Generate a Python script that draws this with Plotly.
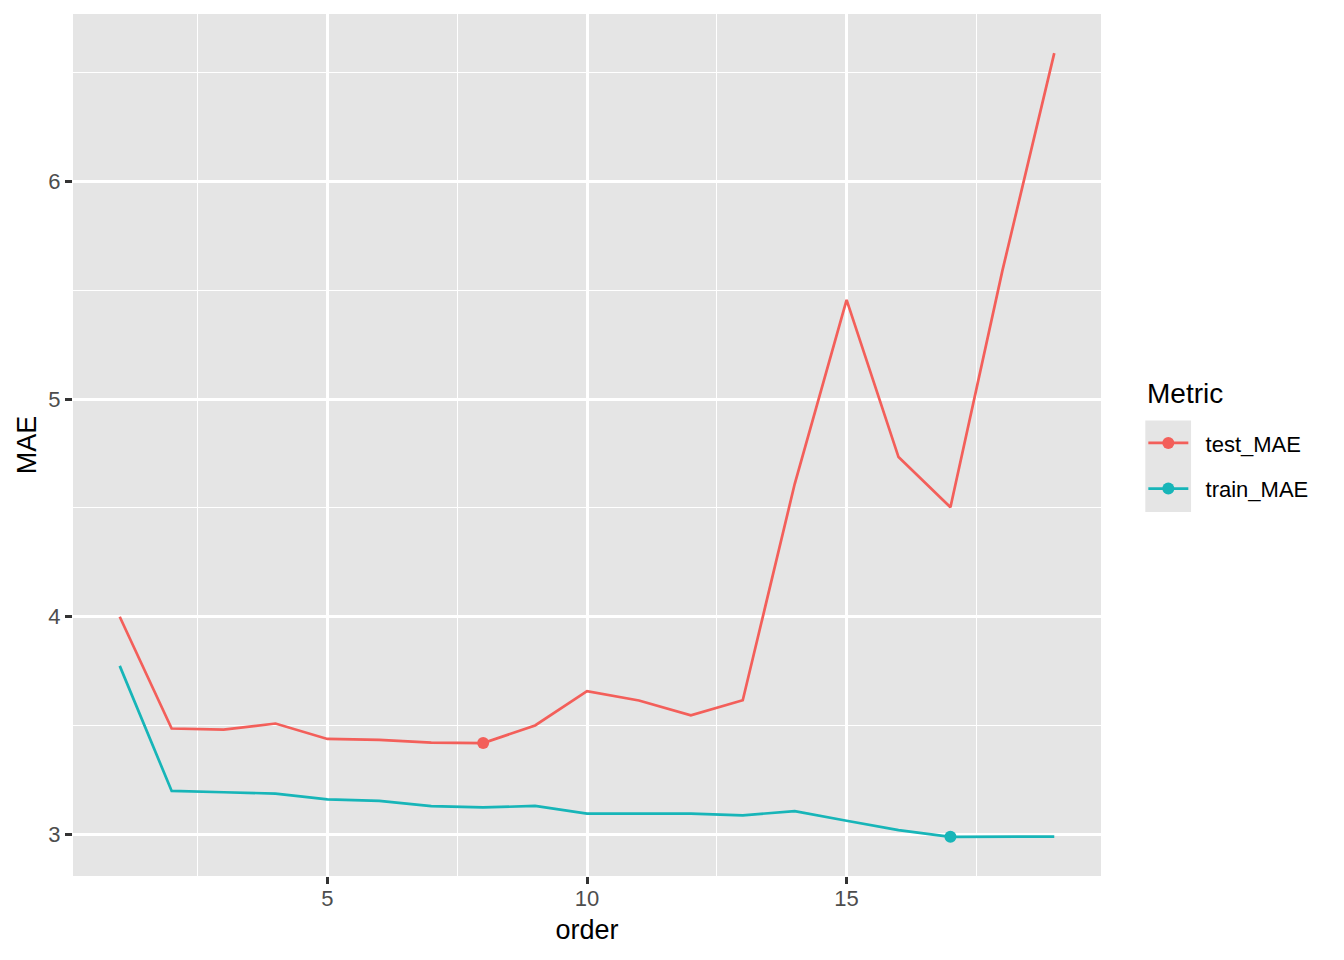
import numpy as np
import plotly.graph_objects as go

order = list(range(1, 20))
test_mae = [4.000, 3.486, 3.481, 3.509, 3.438, 3.434, 3.421, 3.419, 3.500, 3.658,
            3.615, 3.547, 3.616, 4.610, 5.457, 4.734, 4.503, 5.590, 6.591]
train_mae = [3.774, 3.199, 3.193, 3.187, 3.160, 3.153, 3.129, 3.123, 3.130, 3.095,
             3.095, 3.095, 3.087, 3.106, 3.062, 3.019, 2.988, 2.989, 2.989]
series_names = ["test_MAE", "train_MAE"]
series_colors = ["#F35F5A", "#17B5B8"]
x_ticks = [5, 10, 15]
y_ticks = [3, 4, 5, 6]

FONT = "Liberation Sans, Arial, Helvetica, sans-serif"
LW = 2.7
PANEL = "#E5E5E5"

# page body margin offset (8px)
OFF = 8
W, H = 1344 - OFF, 960 - OFF
L, R, T, B = 73.3 - OFF, 1100.7 - OFF, 14.0 - OFF, 875.7 - OFF
pw, ph = R - L, B - T


def px(xp):
    return (xp - OFF - L) / pw


def py(yp):
    return (B - (yp - OFF)) / ph


fig = go.Figure()
for i, (name, vals, col) in enumerate(zip(series_names, [test_mae, train_mae], series_colors)):
    fig.add_trace(go.Scatter(x=order, y=vals, mode="lines", name=name,
                             line=dict(color=col, width=LW), showlegend=False,
                             legendgroup=name))
    k = int(np.argmin(vals))
    fig.add_trace(go.Scatter(x=[order[k]], y=[vals[k]], mode="lines+markers",
                             name="\u00a0\u00a0" + name,
                             line=dict(color=col, width=LW),
                             marker=dict(color=col, size=12),
                             legendgroup=name, showlegend=True))

ymin, ymax = min(min(test_mae), min(train_mae)), max(max(test_mae), max(train_mae))
pad = 0.05 * (ymax - ymin)
xpad = 0.05 * (max(order) - min(order))

fig.add_shape(type="rect", xref="paper", yref="paper",
              x0=px(1145), x1=px(1190.7), y0=py(511.8), y1=py(420.4),
              fillcolor=PANEL, line=dict(width=0), layer="below")

fig.add_annotation(text="Metric", xref="paper", yref="paper", x=px(1145), y=py(393),
                   xanchor="left", yanchor="middle", showarrow=False,
                   font=dict(family=FONT, size=28, color="black"))

axis_common = dict(
    showline=False, zeroline=False, ticks="outside", ticklen=7, tickwidth=LW,
    tickcolor="#333333", gridcolor="white", gridwidth=LW,
    tickfont=dict(family=FONT, size=22, color="#4D4D4D"),
)

fig.update_layout(
    width=W, height=H,
    margin=dict(l=L, r=W - R, t=T, b=H - B, pad=0),
    paper_bgcolor="white", plot_bgcolor=PANEL,
    font=dict(family=FONT, color="black"),
    xaxis=dict(range=[min(order) - xpad, max(order) + xpad], tickmode="array",
               tickvals=x_ticks, ticktext=[str(v) for v in x_ticks],
               minor=dict(tickmode="array", tickvals=[2.5, 7.5, 12.5, 17.5],
                          showgrid=True, gridcolor="white", gridwidth=1.3, ticks=""),
               ticklabelstandoff=-4,
               title=dict(text="order", font=dict(family=FONT, size=27, color="black"),
                          standoff=9),
               **axis_common),
    yaxis=dict(range=[ymin - pad, ymax + pad], tickmode="array",
               tickvals=y_ticks, ticktext=[str(v) for v in y_ticks],
               minor=dict(tickmode="array", tickvals=[3.5, 4.5, 5.5, 6.5],
                          showgrid=True, gridcolor="white", gridwidth=1.3, ticks=""),
               title=dict(text="MAE", font=dict(family=FONT, size=27, color="black"),
                          standoff=3),
               **axis_common),
    legend=dict(x=px(1143), xanchor="left", y=py(422), yanchor="top",
                font=dict(family=FONT, size=22, color="black"),
                tracegroupgap=14, bgcolor="rgba(0,0,0,0)", itemwidth=40),
    showlegend=True,
)

fig.write_html("out.html")
